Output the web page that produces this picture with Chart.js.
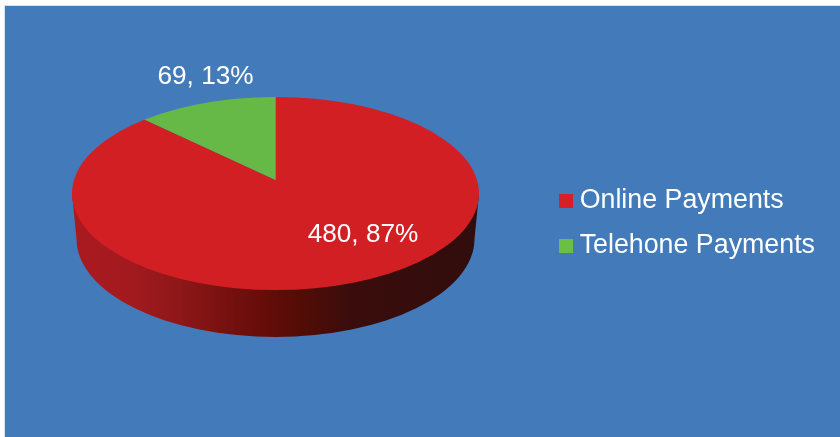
<!DOCTYPE html>
<html>
<head>
<meta charset="utf-8">
<style>html,body{margin:0;padding:0;background:#fff;overflow:hidden}canvas{display:block}</style>
<script src="https://cdn.jsdelivr.net/npm/chart.js@4"></script>
</head>
<body>
<canvas id="c" width="840" height="437"></canvas>
<script>
const categories = ['Online Payments', 'Telehone Payments'];
const values = [480, 69];
const sliceColors = ['#d21f24', '#66b947'];
const legendColors = ['#d81f26', '#6dbf44'];
const FONT = '"Liberation Sans", Arial, sans-serif';

// Picture geometry of the tilted disc
const apex = {x: 275.6, y: 180, sx: 1.29, sy: 0.6};
const top_ = {cx: 275.5, cy: 193.5, rx: 203.5, ry: 96.5};
const low = {cx: 275.5, cy: 239, rx: 199, ry: 98};
const labelSpots = [{x: 363, y: 235}, {x: 205.5, y: 77}];

const total = values.reduce((a, b) => a + b, 0);

function swatch(color) {
  const c = document.createElement('canvas');
  c.width = 14; c.height = 14;
  const x = c.getContext('2d');
  x.fillStyle = color; x.fillRect(0, 0, 14, 14);
  return c;
}

const disc = {
  id: 'disc',
  beforeDraw(chart) {
    const ctx = chart.ctx;
    ctx.save();
    ctx.fillStyle = '#d6e2f0';
    ctx.fillRect(4, 5, 836, 432);
    ctx.fillStyle = '#437ab9';
    ctx.fillRect(5, 6, 835, 431);
    ctx.restore();
  },
  afterLayout(chart) {
    const l = chart.legend;
    const dy = 30;
    l.top += dy; l.bottom += dy;
  },
  beforeDatasetsDraw(chart) {
    const ctx = chart.ctx;
    // side wall
    ctx.save();
    const g = ctx.createLinearGradient(72, 0, 479, 0);
    g.addColorStop(0, '#aa1a20');
    g.addColorStop(0.14, '#a31a1e');
    g.addColorStop(0.26, '#8e1719');
    g.addColorStop(0.48, '#640c08');
    g.addColorStop(0.57, '#520c06');
    g.addColorStop(0.68, '#3a0d0c');
    g.addColorStop(1, '#300d0c');
    ctx.fillStyle = g;
    ctx.beginPath();
    ctx.moveTo(top_.cx - top_.rx, top_.cy);
    ctx.lineTo(low.cx - low.rx, low.cy);
    ctx.ellipse(low.cx, low.cy, low.rx, low.ry, 0, Math.PI, 0, true);
    ctx.lineTo(top_.cx + top_.rx, top_.cy);
    ctx.closePath();
    ctx.fill();
    ctx.restore();
    // top face: clip to the ellipse, skew the pie around its off-centre apex
    const el = chart.getDatasetMeta(0).data[0];
    ctx.save();
    ctx.beginPath();
    ctx.ellipse(top_.cx, top_.cy, top_.rx, top_.ry, 0, 0, Math.PI * 2);
    ctx.clip();
    ctx.translate(apex.x, apex.y);
    ctx.scale(apex.sx, apex.sy);
    ctx.translate(-el.x, -el.y);
  },
  afterDatasetsDraw(chart) {
    const ctx = chart.ctx;
    ctx.restore();
    ctx.save();
    ctx.fillStyle = '#fff';
    ctx.font = '26.2px ' + FONT;
    ctx.textAlign = 'center';
    ctx.textBaseline = 'middle';
    values.forEach((v, i) => {
      const pct = Math.round(v / total * 100);
      ctx.fillText(v + ', ' + pct + '%', labelSpots[i].x, labelSpots[i].y);
    });
    ctx.restore();
  }
};

new Chart(document.getElementById('c'), {
  type: 'pie',
  data: {
    labels: categories,
    datasets: [{data: values, backgroundColor: sliceColors, borderWidth: 0}]
  },
  options: {
    responsive: false,
    animation: false,
    devicePixelRatio: 1,
    layout: {padding: {left: 72, top: 0, right: 15, bottom: 51}},
    plugins: {
      tooltip: {enabled: false},
      title: {display: false},
      legend: {
        display: true,
        position: 'right',
        align: 'center',
        labels: {
          color: '#fff',
          font: {family: FONT, size: 26.8},
          padding: 18.2,
          usePointStyle: true,
          pointStyleWidth: 0.1,
          generateLabels: () => categories.map((t, i) => ({
            text: t, fillStyle: legendColors[i], strokeStyle: legendColors[i],
            lineWidth: 0, pointStyle: swatch(legendColors[i]), index: i,
            fontColor: '#fff', hidden: false
          }))
        }
      }
    }
  },
  plugins: [disc]
});
</script>
</body>
</html>
